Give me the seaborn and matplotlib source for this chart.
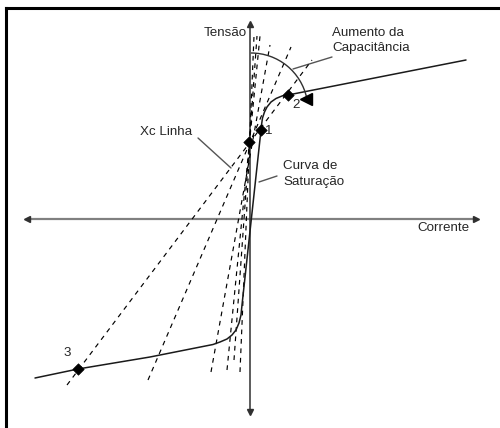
import numpy as np
import pandas as pd
import matplotlib
matplotlib.use("Agg")
import matplotlib.pyplot as plt
from matplotlib.patches import Arc
import seaborn as sns

sns.set_theme(style="white")
plt.rcParams['font.family'] = ['Liberation Sans', 'DejaVu Sans']

# ---- data (current I, voltage V) ----
sat_I = [-215, -172, -100, -37, -30, -23, -18, -14, -11, -9, -8,
         11, 11.5, 12.5, 14.5, 17, 21, 26, 32, 38, 216]
sat_V = [-159, -150, -138, -125.5, -123, -120, -116, -111, -104, -96, -86,
         89, 94, 101, 107, 112, 117, 120.5, 123, 124, 159]

# Xc (capacitive) lines: bottom and top endpoints
xc_I0 = [-183, -102, -39, -23, -16, -10]
xc_V0 = [-166, -161, -153, -151, -141, -153]
xc_I1 = [62, 41, 20, 10, 7, 4]
xc_V1 = [159, 172, 174, 183, 183, 183]

# operating points
pt_I = [-1, 11, 38, -172]
pt_V = [77, 89, 124, -150]

fig = plt.figure(figsize=(5.0, 4.28), dpi=100)
ax = fig.add_axes([0, 0, 1, 1])
ax.set_xlim(-250, 250)
ax.set_ylim(-209, 219)
ax.axis("off")

# frame (left & top)
ax.plot([0.012, 0.012], [0.0, 0.981], transform=ax.transAxes, color="black", lw=2.2, solid_capstyle="projecting")
ax.plot([0.012, 1.0], [0.981, 0.981], transform=ax.transAxes, color="black", lw=2.2, solid_capstyle="projecting")

# axes
ax.plot([-223, 226], [0, 0], color="#808080", lw=1.6, zorder=2)
ax.plot([0, 0], [-193, 195], color="#303030", lw=1.1, zorder=2)
ax.plot([226], [0], marker=">", color="#303030", ms=4.5, zorder=3)
ax.plot([-223], [0], marker="<", color="#303030", ms=4.5, zorder=3)
ax.plot([0], [195], marker="^", color="#303030", ms=4.5, zorder=3)
ax.plot([0], [-193], marker="v", color="#303030", ms=4.5, zorder=3)

# dashed Xc lines
for a0, b0, a1, b1 in zip(xc_I0, xc_V0, xc_I1, xc_V1):
    ax.plot([a0, a1], [b0, b1], color="black", lw=0.85, dashes=(4, 4), zorder=3)

# saturation curve
sat = pd.DataFrame({"I": sat_I, "V": sat_V})
sns.lineplot(data=sat, x="I", y="V", sort=False, estimator=None, color="#1a1a1a", lw=1.1, ax=ax, zorder=4)

# points
sns.scatterplot(x=pt_I, y=pt_V, marker="D", s=34, color="black", edgecolor="black", ax=ax, zorder=5)

# capacitance arc with arrow head
ax.add_patch(Arc((1, 109), 114, 114, theta1=12, theta2=90, color="#303030", lw=1.0, zorder=4))
ax.plot([56], [120], marker="<", color="black", ms=9, zorder=5)

# leaders
ax.plot([-52, -19], [81, 51], color="#555555", lw=1.0)
ax.plot([9, 27], [37, 43], color="#555555", lw=1.0)
ax.plot([82, 43], [162, 150], color="#555555", lw=1.0)

fs = 9.6
ax.text(-3, 186, "Tensão", ha="right", va="center", fontsize=fs)
ax.text(82, 186, "Aumento da", ha="left", va="center", fontsize=fs)
ax.text(82, 171, "Capacitância", ha="left", va="center", fontsize=fs)
ax.text(-58, 87, "Xc Linha", ha="right", va="center", fontsize=fs)
ax.text(33, 53, "Curva de", ha="left", va="center", fontsize=fs)
ax.text(33, 37, "Saturação", ha="left", va="center", fontsize=fs)
ax.text(220, -9, "Corrente", ha="right", va="center", fontsize=fs)
ax.text(19, 88, "1", ha="center", va="center", fontsize=fs)
ax.text(46, 114, "2", ha="center", va="center", fontsize=fs)
ax.text(-183, -134, "3", ha="center", va="center", fontsize=fs)

fig.savefig("out.png", dpi=100)
